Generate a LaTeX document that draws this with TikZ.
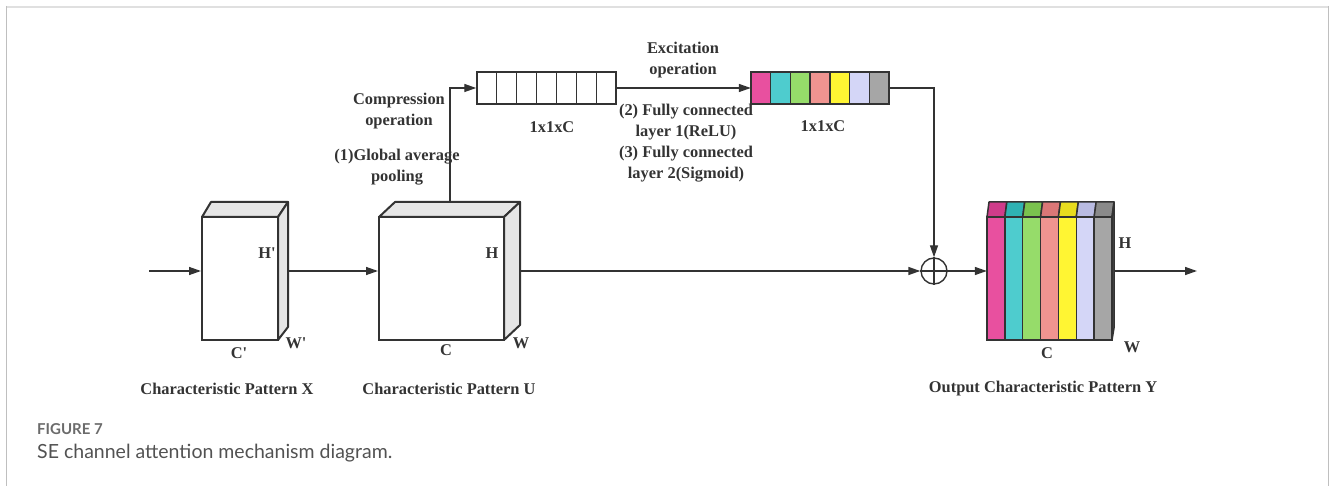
\documentclass[tikz,border=0pt]{standalone}
\usepackage{fontspec}
\setmainfont{Liberation Serif}
\newfontfamily\capfont{Lato}
\usetikzlibrary{arrows.meta,calc}
\definecolor{ln}{HTML}{333333}
\definecolor{face}{HTML}{E6E6E6}
\definecolor{cA}{HTML}{E8509F}\definecolor{tA}{HTML}{CF3C8A}
\definecolor{cB}{HTML}{4ECCCE}\definecolor{tB}{HTML}{2FB2B3}
\definecolor{cC}{HTML}{96DC6A}\definecolor{tC}{HTML}{7AC24E}
\definecolor{cD}{HTML}{F09490}\definecolor{tD}{HTML}{DB7777}
\definecolor{cE}{HTML}{FFF533}\definecolor{tE}{HTML}{E8DC1E}
\definecolor{cF}{HTML}{D4D6F7}\definecolor{tF}{HTML}{B9BBE2}
\definecolor{cG}{HTML}{A6A6A6}\definecolor{tG}{HTML}{8A8A8A}
\tikzset{
  lbl/.style={font=\bfseries\fontsize{16.4}{21}\selectfont, text=ln, align=center, inner sep=0pt},
  arr/.style={draw=ln, line width=1.4, -{Triangle[length=12,width=8]}},
  wire/.style={draw=ln, line width=1.4},
  front/.style={draw=ln, line width=2, fill=white, inner sep=0pt},
  sideface/.style={draw=ln, line width=2, fill=face, line join=round},
}
\begin{document}
\begin{tikzpicture}[x=1pt,y=-1pt]
\useasboundingbox (0,0) rectangle (1330,486);
% frame
\draw[line width=2.5, color=black!12] (6,7) -- (1329,7);
\draw[line width=1, color=black!25] (6.5,6) -- (6.5,486);
\draw[line width=1, color=black!25] (1328.5,6) -- (1328.5,486);

% box X
\draw[sideface] (202,217) -- (211,202) -- (288,202) -- (278,217) -- cycle;
\draw[sideface] (278,217) -- (288,202) -- (288,327) -- (278,340) -- cycle;
\node[front, minimum width=76, minimum height=123] (X) at (240,278.5) {};
\node[lbl] (Hx) at (267,253) {H\textquotesingle};
\node[lbl] (Wx) at (296,343) {W\textquotesingle};
\node[lbl] (Cx) at (239,353) {C\textquotesingle};
\node[lbl] (tX) at (227,389) {Characteristic Pattern X};

% box U
\draw[sideface] (379,217) -- (395,202) -- (520,202) -- (504,217) -- cycle;
\draw[sideface] (504,217) -- (520,202) -- (520,325) -- (504,340) -- cycle;
\node[front, minimum width=125, minimum height=123] (U) at (441.5,278.5) {};
\node[lbl] (Hu) at (492,253) {H};
\node[lbl] (Wu) at (521,343) {W};
\node[lbl] (Cu) at (446,350) {C};
\node[lbl] (tU) at (449,389) {Characteristic Pattern U};

% vector 1 (squeeze)
\node[draw=ln, line width=1.5, minimum width=139, minimum height=32, inner sep=0pt] (V1) at (546.5,88) {};
\foreach \i in {1,...,6} {
  \draw[ln, line width=1.5] ($(V1.north west)!\i/7!(V1.north east)$) -- ($(V1.south west)!\i/7!(V1.south east)$);
}
\node[lbl] (s1) at (552,127) {1x1xC};

% vector 2 (excitation)
\node[minimum width=138, minimum height=32, inner sep=0pt] (V2) at (820,88) {};
\foreach \c [count=\i from 0] in {cA,cB,cC,cD,cE,cF,cG} {
  \fill[\c] ($(V2.north west)!\i/7!(V2.north east)$) rectangle ($(V2.south west)!{(\i+1)/7}!(V2.south east)$);
}
\foreach \i in {1,...,6} {
  \draw[ln, line width=1.5] ($(V2.north west)!\i/7!(V2.north east)$) -- ($(V2.south west)!\i/7!(V2.south east)$);
}
\draw[ln, line width=1.5] (V2.north west) rectangle (V2.south east);
\node[lbl] (s2) at (823,126) {1x1xC};

% output Y
\foreach \c/\t [count=\i from 0] in {cA/tA,cB/tB,cC/tC,cD/tD,cE/tE,cF/tF,cG/tG} {
  \pgfmathsetmacro{\xa}{987+\i*125/7}
  \pgfmathsetmacro{\xb}{987+(\i+1)*125/7}
  \draw[ln, line width=1.5, fill=\t, line join=round] (\xa,217) -- (\xa+2,202) -- (\xb+2,202) -- (\xb,217) -- cycle;
  \draw[ln, line width=1.5, fill=\c] (\xa,217) rectangle (\xb,340);
}
\draw[ln, line width=1.5, fill=black!65, line join=round] (1112,217) -- (1114,202) -- (1114,328) -- (1112,340) -- cycle;
\node[inner sep=0pt, minimum width=125, minimum height=123] (Y) at (1049.5,278.5) {};
\node[lbl] (Hy) at (1125,243) {H};
\node[lbl] (Wy) at (1132,347) {W};
\node[lbl] (Cy) at (1047,353) {C};
\node[lbl] (tY) at (1043,389) {Output Characteristic Pattern Y};

% plus
\node[draw=ln, line width=1.4, circle, minimum size=26, inner sep=0pt] (P) at (934,271) {};
\draw[ln, line width=1.2] (P.north) -- (P.south) (P.west) -- (P.east);

% connectors
\coordinate (in) at (149,271);
\coordinate (xo) at (288,271);
\coordinate (uo) at (520,271);
\coordinate (yo) at (1114,271);
\coordinate (out) at (1197,271);
\coordinate (up) at (450,202);
\coordinate (dn) at (934,88);
\draw[arr] (in) -- (in -| X.west);
\draw[arr] (xo) -- (xo -| U.west);
\draw[arr] (uo) -- (P.west);
\draw[arr] (P.east) -- (P.east -| Y.west);
\draw[arr] (yo) -- (out);
\draw[arr] (up) -- (up |- V1.west) -- (V1.west);
\draw[arr] (V1.east) -- (V2.west);
\draw[arr] (V2.east) -- (dn) -- (P.north);

% operation labels
\node[lbl] (comp) at (399,111.5) {Compression\\operation};
\node[lbl] (gap) at (397,167.5) {(1)Global average\\pooling};
\node[lbl] (exc) at (683,60) {Excitation\\operation};
\node[lbl] (fc) at (686,143.5) {(2) Fully connected\\layer 1(ReLU)\\(3) Fully connected\\layer 2(Sigmoid)};

% caption
\node[anchor=base west, inner sep=0pt, font=\capfont\bfseries\fontsize{15}{18}\selectfont, text=black!58] (fig) at (37,434) {FIGURE 7};
\node[anchor=base west, inner sep=0pt, font=\capfont\fontsize{19.5}{23}\selectfont, text=black!68] (cap) at (37,458) {SE channel attention mechanism diagram.};
\end{tikzpicture}
\end{document}
